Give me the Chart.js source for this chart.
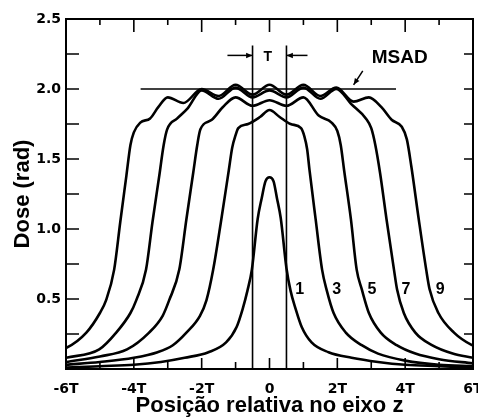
<!DOCTYPE html>
<html>
<head>
<meta charset="utf-8">
<script src="https://cdn.jsdelivr.net/npm/chart.js@4/dist/chart.umd.min.js"></script>
<style>
  html, body { margin: 0; padding: 0; background: #fff; }
</style>
</head>
<body>
<canvas id="chart" width="478" height="419"></canvas>
<script>
// tick values (positions in units of slice width T)
const xTicks = [-6, -4, -2, 0, 2, 4, 6];

// dose profiles: [position (T), dose (rad)]
const curve1 = [[-6, 0.01], [-5, 0.02], [-4, 0.03], [-3.2, 0.05], [-2.5, 0.08], [-1.8, 0.12], [-1.28, 0.19],
  [-0.97, 0.3], [-0.79, 0.43], [-0.65, 0.56], [-0.52, 0.71], [-0.35, 1.07], [-0.23, 1.22], [-0.12, 1.34], [0, 1.37],
  [0.12, 1.34], [0.22, 1.22], [0.33, 1.08], [0.5, 0.72], [0.62, 0.56], [0.77, 0.43], [0.95, 0.3], [1.24, 0.19],
  [1.74, 0.12], [2.42, 0.08], [3.2, 0.05], [4, 0.03], [5, 0.02], [6, 0.01]];

const curve3 = [[-6, 0.03], [-5, 0.05], [-4, 0.08], [-3.3, 0.12], [-2.85, 0.17], [-2.45, 0.26], [-2.05, 0.38],
  [-1.86, 0.49], [-1.66, 0.71], [-1.42, 1.07], [-1.2, 1.42], [-1.1, 1.58], [-1.0, 1.67], [-0.92, 1.72],
  [-0.63, 1.75], [-0.28, 1.8], [0, 1.85], [0.3, 1.8], [0.62, 1.75], [0.93, 1.72], [1.03, 1.66], [1.11, 1.57],
  [1.18, 1.42], [1.36, 1.07], [1.55, 0.71], [1.69, 0.56], [1.89, 0.4], [2.25, 0.26], [2.72, 0.17], [3.2, 0.11],
  [4, 0.06], [5, 0.03], [6, 0.02]];

const curve5 = [[-6, 0.05], [-5, 0.09], [-4.2, 0.14], [-3.55, 0.26], [-3.15, 0.38], [-2.96, 0.49], [-2.66, 0.71],
  [-2.45, 1.07], [-2.25, 1.4], [-2.13, 1.6], [-2.04, 1.71], [-1.7, 1.78], [-1.38, 1.87], [-1.0, 1.94],
  [-0.5, 1.88], [0, 1.92], [0.5, 1.88], [1.0, 1.94], [1.45, 1.81], [1.83, 1.76], [2.0, 1.7], [2.1, 1.6],
  [2.2, 1.42], [2.4, 1.07], [2.57, 0.71], [2.72, 0.57], [2.93, 0.4], [3.28, 0.26], [3.75, 0.17], [4.3, 0.11],
  [5, 0.07], [6, 0.04]];

const curve7 = [[-6, 0.08], [-5.02, 0.14], [-4.52, 0.26], [-4.1, 0.4], [-3.93, 0.49], [-3.64, 0.71], [-3.45, 1.05],
  [-3.25, 1.38], [-3.12, 1.6], [-3.02, 1.71], [-2.72, 1.79], [-2.42, 1.86], [-2.0, 1.99], [-1.5, 1.93],
  [-1.0, 2.01], [-0.5, 1.94], [0, 1.99], [0.5, 1.94], [1.0, 2.01], [1.5, 1.93], [1.97, 2.0], [2.42, 1.89],
  [2.84, 1.79], [3.0, 1.72], [3.12, 1.6], [3.26, 1.4], [3.45, 1.07], [3.67, 0.71], [3.76, 0.57], [3.96, 0.4],
  [4.3, 0.26], [4.79, 0.17], [5.4, 0.11], [6, 0.08]];

const curve9 = [[-6.2, 0.14], [-6, 0.15], [-5.4, 0.26], [-5.0, 0.4], [-4.82, 0.49], [-4.58, 0.71], [-4.4, 1.05],
  [-4.22, 1.38], [-4.1, 1.6], [-4.0, 1.69], [-3.81, 1.76], [-3.52, 1.79], [-3.28, 1.87], [-3.0, 1.94],
  [-2.54, 1.9], [-2.0, 2.0], [-1.5, 1.95], [-1.0, 2.03], [-0.5, 1.96], [0, 2.03], [0.5, 1.96], [1.0, 2.03],
  [1.5, 1.95], [1.97, 2.01], [2.48, 1.91], [2.93, 1.94], [3.3, 1.87], [3.6, 1.78], [3.9, 1.73], [4.05, 1.64],
  [4.18, 1.45], [4.4, 1.07], [4.62, 0.71], [4.72, 0.57], [4.98, 0.4], [5.44, 0.26], [5.97, 0.17], [6.2, 0.15]];

// slice edges (±T/2) and the MSAD level
const beamEdges = [-0.5, 0.5];
const beamEdgeTop = 2.31;
const msadLevel = 2.0;
const msadSpan = [-3.8, 3.73];

// curve labels: number of slices
const sliceLabels = ['1', '3', '5', '7', '9'];
const sliceLabelPos = [0.89, 1.98, 3.02, 4.02, 5.03];
const sliceLabelDose = 0.57;

const ink = '#000';
const toPoints = arr => arr.map(p => ({ x: p[0], y: p[1] }));

function profile(arr) {
  return {
    data: toPoints(arr),
    borderColor: ink,
    borderWidth: 2.6,
    pointRadius: 0,
    cubicInterpolationMode: 'monotone',
    fill: false
  };
}

function straight(points, width) {
  return {
    data: toPoints(points),
    borderColor: ink,
    borderWidth: width,
    pointRadius: 0,
    tension: 0,
    fill: false
  };
}

function arrow(ctx, x1, y1, x2, y2, size) {
  const ang = Math.atan2(y2 - y1, x2 - x1);
  ctx.beginPath();
  ctx.moveTo(x1, y1);
  ctx.lineTo(x2, y2);
  ctx.stroke();
  ctx.beginPath();
  ctx.moveTo(x2, y2);
  ctx.lineTo(x2 - size * Math.cos(ang - 0.4), y2 - size * Math.sin(ang - 0.4));
  ctx.lineTo(x2 - size * Math.cos(ang + 0.4), y2 - size * Math.sin(ang + 0.4));
  ctx.closePath();
  ctx.fill();
}

const annotations = {
  id: 'annotations',
  afterDatasetsDraw(chart) {
    const { ctx, chartArea: a, scales: { x, y } } = chart;
    ctx.save();
    ctx.strokeStyle = ink;
    ctx.fillStyle = ink;

    // frame
    ctx.lineWidth = 2;
    ctx.strokeRect(a.left, a.top, a.right - a.left, a.bottom - a.top);

    // inward tick marks
    ctx.lineWidth = 1.6;
    ctx.beginPath();
    for (let v = 0.25; v < 2.5; v += 0.25) {
      const py = y.getPixelForValue(v);
      ctx.moveTo(a.left, py); ctx.lineTo(a.left + 13, py);
      ctx.moveTo(a.right, py); ctx.lineTo(a.right - 9, py);
    }
    for (let t = -5; t <= 5; t++) {
      const px = x.getPixelForValue(t);
      const even = t % 2 === 0;
      ctx.moveTo(px, a.top); ctx.lineTo(px, a.top + (even ? 13 : 6));
      ctx.moveTo(px, a.bottom); ctx.lineTo(px, a.bottom - (even ? 11 : 7));
    }
    ctx.stroke();

    // T marker between the slice edges
    const ty = y.getPixelForValue(2.24);
    ctx.lineWidth = 1.5;
    arrow(ctx, x.getPixelForValue(-1.24), ty, x.getPixelForValue(-0.5), ty, 7);
    arrow(ctx, x.getPixelForValue(1.12), ty, x.getPixelForValue(0.5), ty, 7);
    ctx.font = 'bold 14px "Liberation Sans"';
    ctx.textAlign = 'center';
    ctx.textBaseline = 'middle';
    ctx.fillText('T', x.getPixelForValue(-0.05), y.getPixelForValue(2.23));

    // MSAD label
    ctx.font = 'bold 19px "Liberation Sans"';
    ctx.fillText('MSAD', x.getPixelForValue(3.84), y.getPixelForValue(2.22));
    arrow(ctx, x.getPixelForValue(2.75), y.getPixelForValue(2.13),
      x.getPixelForValue(2.48), y.getPixelForValue(2.03), 7);

    // slice count labels
    ctx.font = 'bold 16px "Liberation Sans"';
    sliceLabels.forEach((s, i) => {
      ctx.fillText(s, x.getPixelForValue(sliceLabelPos[i]), y.getPixelForValue(sliceLabelDose));
    });
    ctx.restore();
  }
};

const datasets = [curve1, curve3, curve5, curve7, curve9].map(profile);
beamEdges.forEach(e => datasets.push(straight([[e, 0], [e, beamEdgeTop]], 1.6)));
datasets.push(straight([[msadSpan[0], msadLevel], [msadSpan[1], msadLevel]], 1.6));

new Chart(document.getElementById('chart'), {
  type: 'line',
  data: { datasets },
  plugins: [annotations],
  options: {
    responsive: false,
    devicePixelRatio: 1,
    animation: false,
    layout: { padding: { top: 19, right: 5, left: 0, bottom: 0 } },
    plugins: { legend: { display: false }, tooltip: { enabled: false } },
    scales: {
      x: {
        type: 'linear',
        min: -6,
        max: 6,
        afterBuildTicks: s => { s.ticks = xTicks.map(v => ({ value: v })); },
        afterFit: s => { s.height = 50; s.paddingLeft = 0; s.paddingRight = 0; },
        grid: { display: false, drawTicks: false },
        border: { display: false },
        ticks: {
          callback: v => (v === 0 ? '0' : v + 'T'),
          font: { family: 'DejaVu Sans', weight: 'bold', size: 14 },
          color: ink,
          padding: 12,
          maxRotation: 0,
          autoSkip: false
        },
        title: {
          display: true,
          text: 'Posição relativa no eixo z',
          font: { family: 'Liberation Sans', weight: 'bold', size: 22 },
          color: ink,
          padding: { top: 0, bottom: 0 }
        }
      },
      y: {
        min: 0,
        max: 2.5,
        afterFit: s => { s.width = 66; s.paddingTop = 0; s.paddingBottom = 0; },
        grid: { display: false, drawTicks: false },
        border: { display: false },
        ticks: {
          stepSize: 0.5,
          callback: v => (v === 0 ? '' : v.toFixed(1)),
          font: { family: 'DejaVu Sans', weight: 'bold', size: 14 },
          color: ink,
          padding: 5
        },
        title: {
          display: true,
          text: 'Dose (rad)',
          font: { family: 'Liberation Sans', weight: 'bold', size: 22 },
          color: ink,
          padding: { top: 10, bottom: 0 }
        }
      }
    }
  }
});
</script>
</body>
</html>
